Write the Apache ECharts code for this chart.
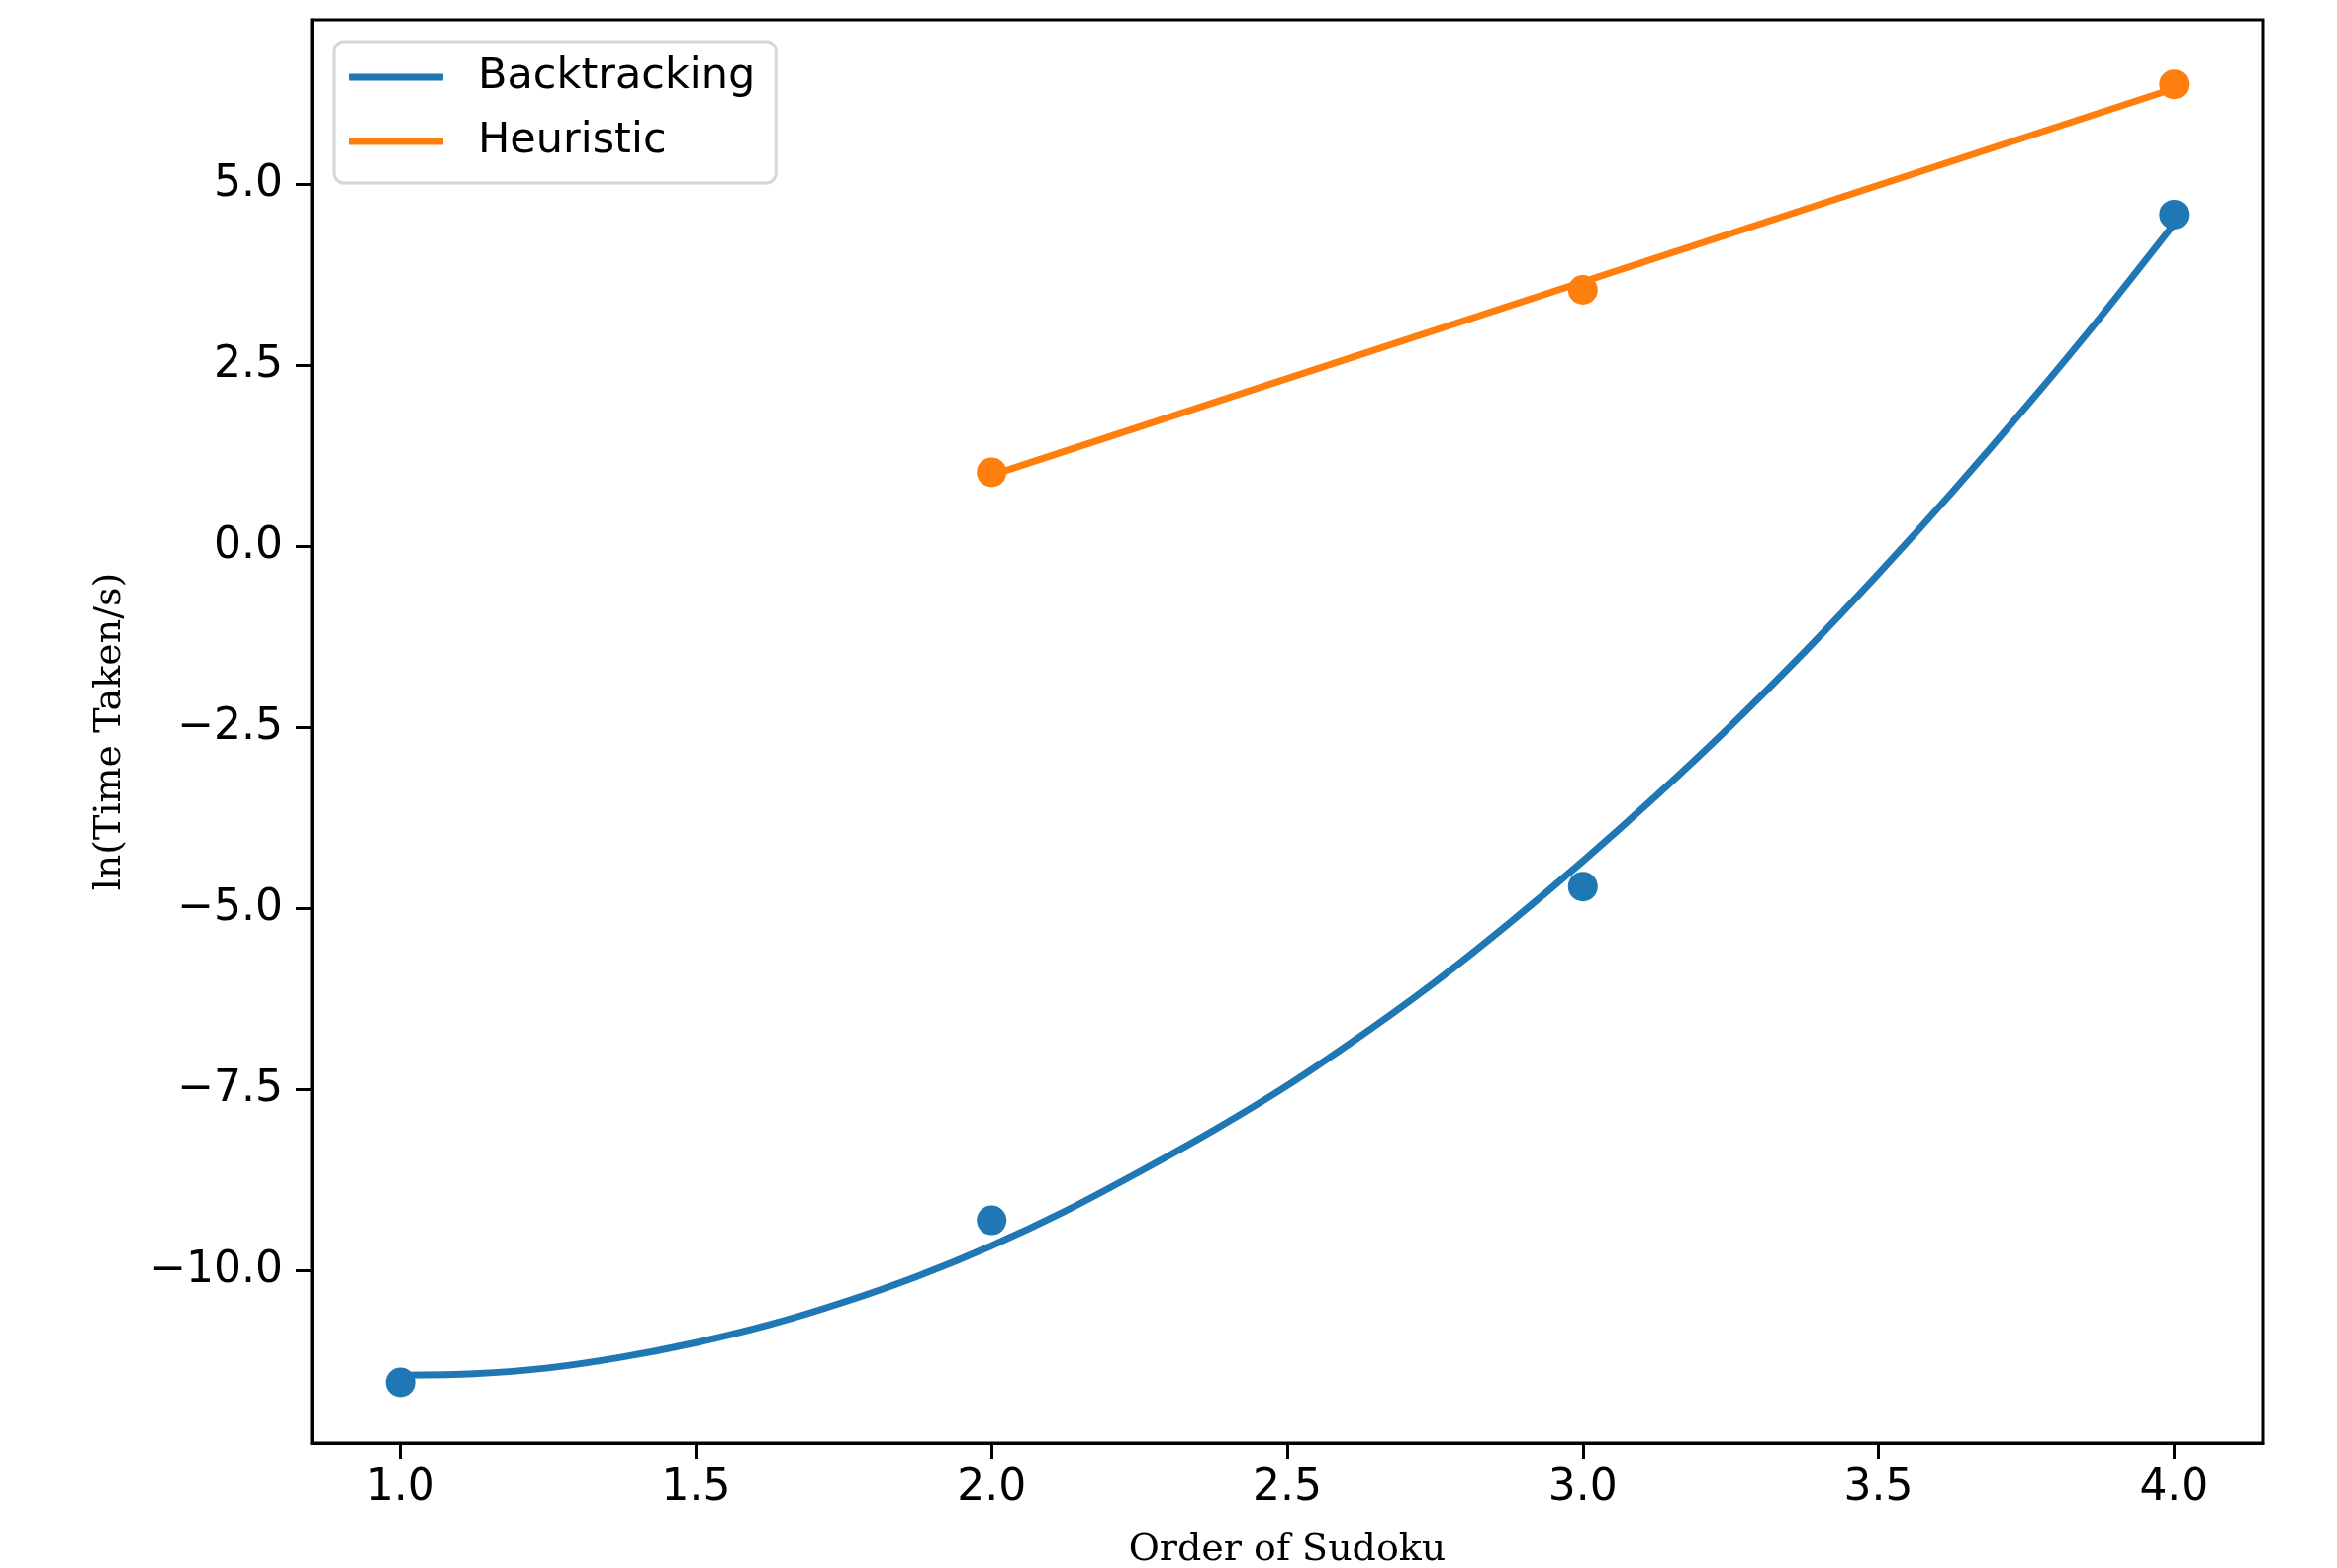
<!DOCTYPE html>
<html>
<head>
<meta charset="utf-8">
<script src="https://cdn.jsdelivr.net/npm/echarts@6/dist/echarts.min.js"></script>
<style>
  html, body { margin: 0; padding: 0; background: #fff; }
  #chart { width: 2362px; height: 1585px; }
</style>
</head>
<body>
<div id="chart"></div>
<script>
// measured points
const orders = [1, 2, 3, 4]
const backtrackingPts = [-11.55, -9.31, -4.7, 4.58]
const heuristicOrders = [2, 3, 4]
const heuristicPts = [1.02, 3.54, 6.38]

// fitted curve for backtracking
const curveX = [1.0, 1.125, 1.25, 1.375, 1.5, 1.625, 1.75, 1.875, 2.0, 2.125, 2.25, 2.375, 2.5,
  2.625, 2.75, 2.875, 3.0, 3.125, 3.25, 3.375, 3.5, 3.625, 3.75, 3.875, 4.0]
const curveY = [-11.45, -11.43, -11.35, -11.2, -11.0, -10.75, -10.44, -10.08, -9.66, -9.18, -8.64, -8.07, -7.45,
  -6.76, -6.02, -5.21, -4.35, -3.44, -2.48, -1.46, -0.38, 0.75, 1.93, 3.16, 4.45]

// fitted straight line for heuristic
const lineX = [2, 4]
const lineY = [0.98, 6.32]

const xTicks = [1.0, 1.5, 2.0, 2.5, 3.0, 3.5, 4.0]
const yTicks = [-10, -7.5, -5, -2.5, 0, 2.5, 5]

const BLUE = '#1f77b4'
const ORANGE = '#ff7f0e'

const zip = (xs, ys) => xs.map((x, i) => [x, ys[i]])
const fmt = (v) => (v < 0 ? '\u2212' : '') + Math.abs(v).toFixed(1)

const chart = echarts.init(document.getElementById('chart'), null, { renderer: 'canvas' })

const tickFont = { fontFamily: 'DejaVu Sans', fontSize: 44, color: '#000' }
const labelFont = { fontFamily: 'DejaVu Serif', fontSize: 38, color: '#000' }

const option = {
  backgroundColor: '#fff',
  animation: false,
  grid: {
    left: 315,
    top: 20,
    width: 1972,
    height: 1439,
    outerBoundsMode: 'none',
    show: true,
    borderColor: '#000',
    borderWidth: 3,
    backgroundColor: 'transparent'
  },
  legend: {
    data: ['Backtracking', 'Heuristic'],
    orient: 'vertical',
    left: 338,
    top: 42,
    backgroundColor: '#fff',
    borderColor: '#d6d6d6',
    borderWidth: 3,
    borderRadius: 10,
    padding: [11, 21, 17, 15],
    itemWidth: 95,
    itemHeight: 7,
    itemGap: 15,
    icon: 'rect',
    selectedMode: false,
    textStyle: { fontFamily: 'DejaVu Sans', fontSize: 43, color: '#000', lineHeight: 50, padding: [0, 0, 0, 30] }
  },
  xAxis: {
    type: 'value',
    min: 0.85,
    max: 4.15,
    name: 'Order of Sudoku',
    nameLocation: 'middle',
    nameGap: 89,
    nameTextStyle: labelFont,
    axisLine: { show: true, onZero: false, lineStyle: { color: '#000', width: 3 } },
    axisTick: { show: true, inside: false, length: 16, customValues: xTicks, lineStyle: { color: '#000', width: 3 } },
    axisLabel: { ...tickFont, margin: 24, customValues: xTicks, formatter: fmt },
    splitLine: { show: false }
  },
  yAxis: {
    type: 'value',
    min: -12.39,
    max: 7.27,
    name: 'ln(Time Taken/s)',
    nameLocation: 'middle',
    nameRotate: 90,
    nameGap: 185,
    nameTextStyle: labelFont,
    axisLine: { show: true, onZero: false, lineStyle: { color: '#000', width: 3 } },
    axisTick: { show: true, inside: false, length: 16, customValues: yTicks, lineStyle: { color: '#000', width: 3 } },
    axisLabel: { ...tickFont, margin: 29, customValues: yTicks, formatter: fmt },
    splitLine: { show: false }
  },
  series: [
    {
      name: 'Backtracking',
      type: 'line',
      data: zip(curveX, curveY),
      smooth: 0.3,
      symbol: 'none',
      lineStyle: { color: BLUE, width: 7 },
      itemStyle: { color: BLUE },
      z: 2
    },
    {
      name: 'Heuristic',
      type: 'line',
      data: zip(lineX, lineY),
      symbol: 'none',
      lineStyle: { color: ORANGE, width: 7 },
      itemStyle: { color: ORANGE },
      z: 2
    },
    {
      name: 'Backtracking points',
      type: 'scatter',
      data: zip(orders, backtrackingPts),
      symbolSize: 30,
      itemStyle: { color: BLUE, opacity: 1 },
      z: 3
    },
    {
      name: 'Heuristic points',
      type: 'scatter',
      data: zip(heuristicOrders, heuristicPts),
      symbolSize: 30,
      itemStyle: { color: ORANGE, opacity: 1 },
      z: 3
    }
  ]
}

chart.setOption(option)
</script>
</body>
</html>
